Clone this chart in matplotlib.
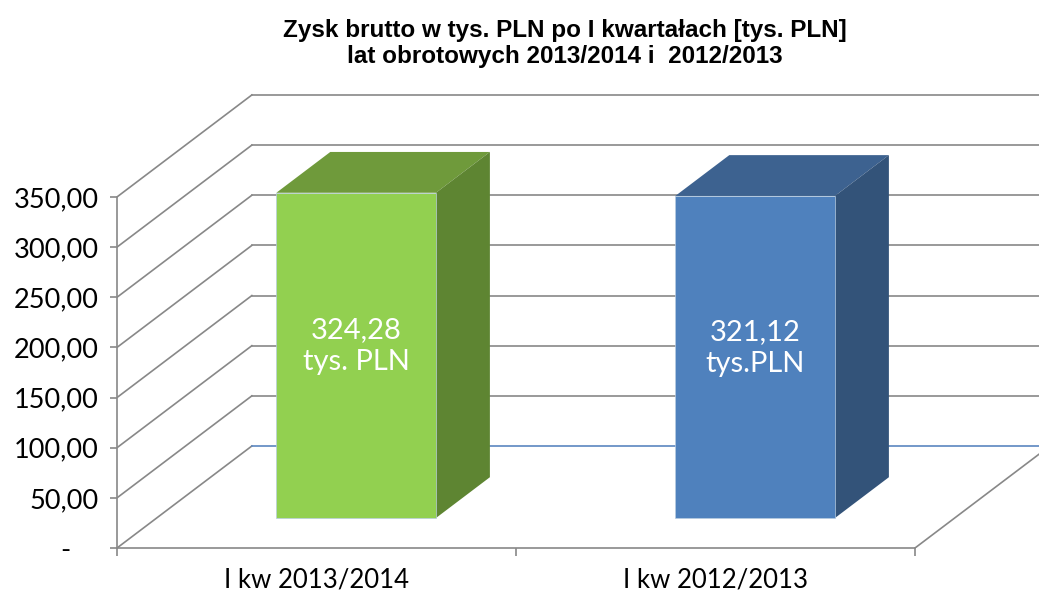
import matplotlib
matplotlib.use('Agg')
import matplotlib.pyplot as plt
from matplotlib.patches import Polygon

# dane
categories = ['I kw 2013/2014', 'I kw 2012/2013']
values = [324.28, 321.12]
value_labels = ['324,28\ntys. PLN', '321,12\ntys.PLN']
y_ticks = [0, 50, 100, 150, 200, 250, 300, 350]
title_lines = ['Zysk brutto w tys. PLN po I kwartałach [tys. PLN]',
               'lat obrotowych 2013/2014 i  2012/2013']

front_colors = ['#92D050', '#4F81BD']
top_colors = ['#6F9A3B', '#3D6290']
side_colors = ['#5E8532', '#335379']
grid_c = '#888888'

# pseudo 3d (jak w Excelu): glebokosc podlogi w jednostkach danych
DX, DY = 0.338, 101.7
BAR_W = 0.4
Z0, ZD = 0.294, 0.40   # poczatek slupka i jego glebokosc (czesc podlogi)

W, H = 1039, 593
px_cat, px_val = 399, 1.003
fig = plt.figure(figsize=(W / 100, H / 100), dpi=100)
ax = fig.add_axes([117 / W, (H - 548) / H, (W - 117) / W, (548 - 80) / H])
ax.set_xlim(-0.5, -0.5 + (W - 117) / px_cat)
ax.set_ylim(0, (548 - 80) / px_val)
xmax = ax.get_xlim()[1]

# siatka na scianie bocznej i tylnej
for v in y_ticks:
    ax.plot([-0.5, -0.5 + DX], [v, v + DY], color=grid_c, lw=1.2, zorder=1)
    back_c = '#5B86C0' if v == 0 else grid_c
    ax.plot([-0.5 + DX, xmax], [v + DY, v + DY], color=back_c, lw=1.2, zorder=1)
# prawa krawedz podlogi
ax.plot([1.5, 1.5 + DX], [0, DY], color=grid_c, lw=1.2, zorder=1)

# slupki
n = len(values)
xs = [i - 0.5 + (1 - BAR_W) / 2 + Z0 * DX for i in range(n)]
base = Z0 * DY
bdx, bdy = ZD * DX, ZD * DY
ax.bar(xs, values, width=BAR_W, bottom=base, align='edge',
       color=front_colors, edgecolor='#B8CCE0', linewidth=0.5, zorder=3)
for i in range(n):
    xl, xr = xs[i], xs[i] + BAR_W
    top = base + values[i]
    ax.add_patch(Polygon([(xl, top), (xr, top), (xr + bdx, top + bdy), (xl + bdx, top + bdy)],
                         closed=True, facecolor=top_colors[i], edgecolor='none', zorder=2.5))
    ax.add_patch(Polygon([(xr, base), (xr, top), (xr + bdx, top + bdy), (xr + bdx, base + bdy)],
                         closed=True, facecolor=side_colors[i], edgecolor='none', zorder=2.5))
    ax.text(xl + BAR_W / 2, base + values[i] / 2 + 9, value_labels[i], ha='center', va='center',
            color='white', fontsize=21, family='Lato', linespacing=1.27, zorder=4)

# osie
for s in ['top', 'right']:
    ax.spines[s].set_visible(False)
ax.spines['left'].set_bounds(0, 350)
ax.spines['bottom'].set_bounds(-0.5, 1.5)
for s in ['left', 'bottom']:
    ax.spines[s].set_color(grid_c)
    ax.spines[s].set_linewidth(1.2)
ax.set_yticks(y_ticks, labels=['-    ' if v == 0 else f'{v:.2f}'.replace('.', ',') for v in y_ticks])
ax.tick_params(axis='y', length=5, color=grid_c, width=1.2, labelsize=19.5, pad=8)
ax.set_xticks(range(n), labels=categories)
ax.set_xticks([-0.5, 0.5, 1.5], minor=True)
ax.tick_params(axis='x', which='major', length=0, pad=14, labelsize=18.5)
ax.tick_params(axis='x', which='minor', length=6, color=grid_c, width=1.2)
for lab in ax.get_xticklabels() + ax.get_yticklabels():
    lab.set_family('Lato')
ax.patch.set_visible(False)

# tytul
fig.text(565 / W, 1 - 30 / H, title_lines[0], ha='center', va='center',
         fontsize=17.5, fontweight='bold', family='Liberation Sans')
fig.text(565 / W, 1 - 56 / H, title_lines[1], ha='center', va='center',
         fontsize=17.5, fontweight='bold', family='Liberation Sans')

fig.savefig('out.png', dpi=100)
